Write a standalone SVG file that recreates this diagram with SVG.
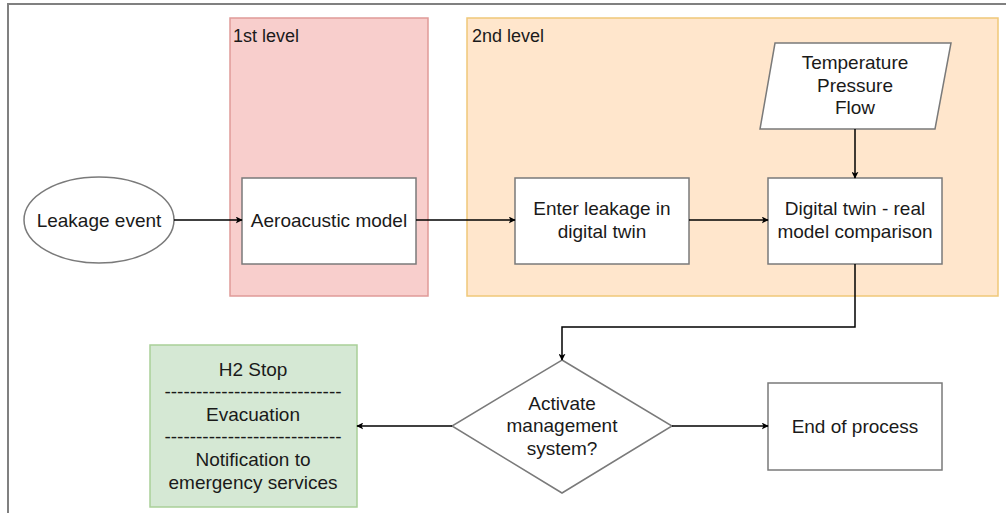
<svg xmlns="http://www.w3.org/2000/svg" width="1006" height="513" viewBox="0 0 1006 513">
<style>
text{font-family:"Liberation Sans",Arial,sans-serif;font-size:19px;fill:#1a1a1a}
.c{text-anchor:middle}
.node{fill:#fff;stroke:#7a7a7a;stroke-width:1.5}
.conn{fill:none;stroke:#000;stroke-width:1.5}
</style>
<defs>
<marker id="ah" viewBox="0 0 10 10" refX="9" refY="5" markerWidth="7" markerHeight="7" markerUnits="userSpaceOnUse" orient="auto">
<path d="M0,0 L10,5 L0,10 L2.5,5 Z" fill="#000"/>
</marker>
</defs>
<rect x="0" y="0" width="1006" height="513" fill="#fff"/>
<rect x="8" y="4" width="1010" height="520" fill="none" stroke="#808080" stroke-width="2"/>
<g id="level1">
<rect x="230" y="18" width="198" height="278" fill="#f8cecc" stroke="#e09a98" stroke-width="1.5"/>
<text x="233" y="42" style="font-size:18px">1st level</text>
</g>
<g id="level2">
<rect x="467" y="18" width="531" height="278" fill="#ffe6cc" stroke="#f0c878" stroke-width="1.5"/>
<text x="472" y="42" style="font-size:18px">2nd level</text>
</g>
<g id="leakage">
<ellipse cx="99" cy="220" rx="75" ry="43" class="node"/>
<text x="99" y="227" class="c">Leakage event</text>
</g>
<g id="aeroacustic">
<rect x="242" y="178" width="174" height="86" class="node"/>
<text x="329" y="227" class="c">Aeroacustic model</text>
</g>
<g id="enter">
<rect x="515" y="178" width="174" height="86" class="node"/>
<text x="602" y="215" class="c">Enter leakage in</text>
<text x="602" y="238" class="c">digital twin</text>
</g>
<g id="dtwin">
<rect x="768" y="178" width="174" height="86" class="node"/>
<text x="855" y="215" class="c">Digital twin - real</text>
<text x="855" y="238" class="c">model comparison</text>
</g>
<g id="inputs">
<polygon points="775,43 951,43 935,129 760,129" class="node"/>
<text x="855" y="69" class="c">Temperature</text>
<text x="855" y="92" class="c">Pressure</text>
<text x="855" y="114" class="c">Flow</text>
</g>
<g id="decision">
<polygon points="562,360 672,426 562,493 452,426" class="node"/>
<text x="562" y="410" class="c">Activate</text>
<text x="562" y="432" class="c">management</text>
<text x="562" y="455" class="c">system?</text>
</g>
<g id="end">
<rect x="768" y="383" width="174" height="87" class="node"/>
<text x="855" y="433" class="c">End of process</text>
</g>
<g id="actions">
<rect x="150" y="345" width="207" height="162" fill="#d5e8d4" stroke="#a9cf98" stroke-width="1.5"/>
<text x="253" y="376" class="c">H2 Stop</text>
<text x="253" y="398" class="c">----------------------------</text>
<text x="253" y="421" class="c">Evacuation</text>
<text x="253" y="443" class="c">----------------------------</text>
<text x="253" y="466" class="c">Notification to</text>
<text x="253" y="489" class="c">emergency services</text>
</g>
<g id="connectors">
<path d="M174,220 H242" class="conn" marker-end="url(#ah)"/>
<path d="M416,220 H515" class="conn" marker-end="url(#ah)"/>
<path d="M689,220 H768" class="conn" marker-end="url(#ah)"/>
<path d="M855,129 V178" class="conn" marker-end="url(#ah)"/>
<path d="M855,264 V327 H562 V360" class="conn" marker-end="url(#ah)"/>
<path d="M452,426 H357" class="conn" marker-end="url(#ah)"/>
<path d="M672,426 H768" class="conn" marker-end="url(#ah)"/>
</g>
</svg>
